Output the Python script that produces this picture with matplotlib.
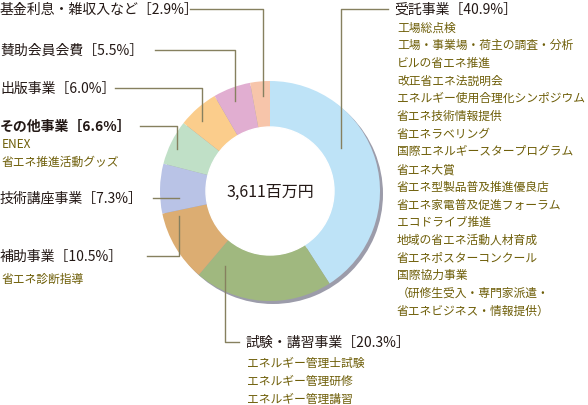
import matplotlib.pyplot as plt
from matplotlib.patches import Wedge

plt.rcParams['font.family'] = ['Noto Sans CJK JP', 'DejaVu Sans']

labels = ['受託事業', '試験・講習事業', '補助事業', '技術講座事業',
          'その他事業', '出版事業', '賛助会員会費', '基金利息・雑収入など']
shares = [40.9, 20.3, 10.5, 7.3, 6.6, 6.0, 5.5, 2.9]
colors = ['#bee3f7', '#a0b87f', '#dcad72', '#b9c3e6',
          '#c0e0c7', '#fbcd8c', '#e1aed1', '#f7c5aa']
total_text = '3,611百万円'

sub_items = {
    '受託事業': ['工場総点検', '工場・事業場・荷主の調査・分析', 'ビルの省エネ推進',
             '改正省エネ法説明会', 'エネルギー使用合理化シンポジウム', '省エネ技術情報提供',
             '省エネラベリング', '国際エネルギースタープログラム', '省エネ大賞',
             '省エネ型製品普及推進優良店', '省エネ家電普及促進フォーラム', 'エコドライブ推進',
             '地域の省エネ活動人材育成', '省エネポスターコンクール', '国際協力事業',
             '（研修生受入・専門家派遣・', '省エネビジネス・情報提供）'],
    '試験・講習事業': ['エネルギー管理士試験', 'エネルギー管理研修', 'エネルギー管理講習'],
    '補助事業': ['省エネ診断指導'],
    'その他事業': ['ENEX', '省エネ推進活動グッズ'],
}

W, H = 588, 406
fig = plt.figure(figsize=(W / 100, H / 100), dpi=100)
ax = fig.add_axes([0, 0, 1, 1])

cx, cy = 270, H - 192
r_out, ring = 110, 46

# shadow
ax.add_patch(Wedge((cx + 3, cy - 3), r_out, 0, 360, width=ring,
                   facecolor='#9c9caa', edgecolor='none', zorder=1))
ax.pie(shares, colors=colors, startangle=90, counterclock=False,
       radius=r_out, center=(cx, cy),
       wedgeprops=dict(width=ring, linewidth=0, zorder=2))
ax.add_patch(plt.Circle((cx, cy), r_out - ring, color='white', zorder=3))
ax.text(cx, cy, total_text, ha='center', va='center', fontsize=11.5, color='#231815', zorder=4)

ax.set_xlim(0, W)
ax.set_ylim(0, H)
ax.set_aspect('auto')
ax.axis('off')

main_c = '#231815'
sub_c = '#6e5e08'
line_c = '#86805f'

# (label, text x, text y, leader points in pixel coords)
layout = {
    '基金利息・雑収入など': (0, 10, [(190, 10), (263, 10), (263, 97)]),
    '賛助会員会費': (0, 51, [(155, 51), (235, 51), (235, 102)]),
    '出版事業': (0, 89, [(115, 89), (202, 89), (202, 122)]),
    'その他事業': (0, 127, [(140, 127), (177, 127), (177, 150)]),
    '技術講座事業': (0, 199, [(153, 199), (179, 199)]),
    '補助事業': (0, 257, [(147, 257), (179, 257), (179, 217)]),
    '試験・講習事業': (245, 343, [(225, 267), (225, 343), (239, 343)]),
    '受託事業': (394, 10, [(341, 149), (341, 10), (388, 10)]),
}

for name, share in zip(labels, shares):
    tx, ty, pts = layout[name]
    xs = [p[0] for p in pts]
    ys = [H - p[1] for p in pts]
    ax.plot(xs, ys, color=line_c, lw=1, zorder=5)
    weight = 'bold' if name == 'その他事業' else 'normal'
    ax.text(tx, H - ty, f'{name}［{share:.1f}%］', ha='left', va='center',
            fontsize=10, color=main_c, fontweight=weight)
    subs = sub_items.get(name, [])
    if name == '受託事業':
        sx, sy, step = 397, 28, 17.7
    elif name == '試験・講習事業':
        sx, sy, step = 247, 363, 18.3
    elif name == '補助事業':
        sx, sy, step = 2, 279, 18
    else:
        sx, sy, step = 2, 144, 18
    for i, s in enumerate(subs):
        ax.text(sx, H - (sy + i * step), s, ha='left', va='center',
                fontsize=8.5, color=sub_c)

fig.savefig('out.png', dpi=100, facecolor='white')
